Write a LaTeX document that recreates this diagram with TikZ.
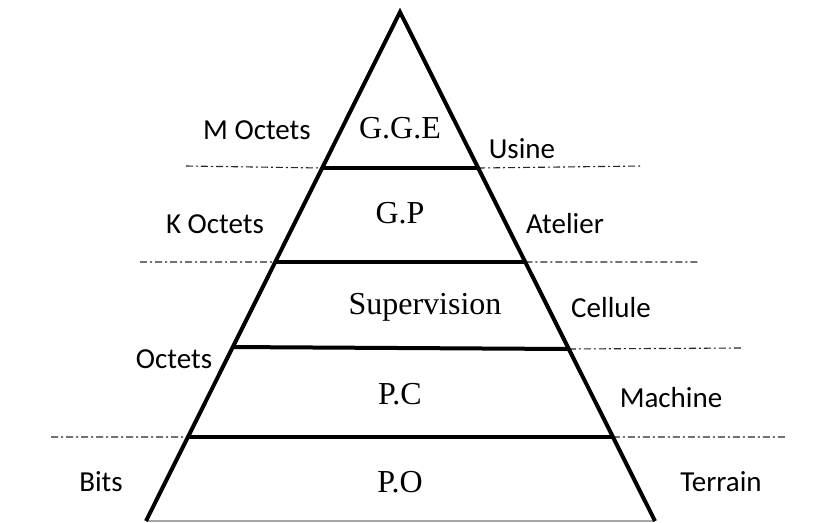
\documentclass[tikz,border=0pt]{standalone}
\usepackage{fontspec}
\setmainfont{Liberation Serif}
\newfontfamily\lblfont{Carlito}
\usetikzlibrary{calc}
\begin{document}
\begin{tikzpicture}[x=1pt,y=-1pt,
  edge/.style={line width=4pt,line cap=butt,line join=miter},
  level/.style={line width=4pt},
  guide/.style={line width=1.1pt,black!85,dash pattern=on 7pt off 3pt on 2pt off 3pt},
  inner/.style={font=\fontsize{32}{36}\selectfont,inner sep=0pt},
  side/.style={font=\lblfont\fontsize{29}{33}\selectfont,inner sep=0pt}]
\useasboundingbox (0,0) rectangle (819,522);
% triangle corners
\coordinate (A) at (400,12);
\coordinate (BL) at (146,521);
\coordinate (BR) at (655,521);
% level boundaries on both sides
\coordinate (L1) at ($(A)!0.3065!(BL)$); \coordinate (R1) at ($(A)!0.3065!(BR)$);
\coordinate (L2) at ($(A)!0.4912!(BL)$); \coordinate (R2) at ($(A)!0.4912!(BR)$);
\coordinate (L3) at ($(A)!0.6582!(BL)$); \coordinate (R3) at ($(A)!0.6621!(BR)$);
\coordinate (L4) at ($(A)!0.835!(BL)$);  \coordinate (R4) at ($(A)!0.835!(BR)$);
% guide line ends
\coordinate (g1l) at (186,166); \coordinate (g1r) at (643,166);
\coordinate (g2l) at (140,262); \coordinate (g2r) at (700,262);
\coordinate (g3r) at (741,348);
\coordinate (g4l) at (51,437);  \coordinate (g4r) at (786,437);
% dash-dot guides
\draw[guide] (g1l) -- (L1) (R1) -- (g1r);
\draw[guide] (g2l) -- (L2) (R2) -- (g2r);
\draw[guide] (R3) -- (g3r);
\draw[guide] (g4l) -- (L4) (R4) -- (g4r);
% base
\draw[line width=1.2pt,black!35] (BL) -- (BR);
% pyramid sides and levels
\draw[edge] (BL) -- (A) -- (BR);
\draw[level] (L1) -- (R1);
\draw[level] (L2) -- (R2);
\draw[level] (L3) -- (R3);
\draw[level] (L4) -- (R4);
% level names
\node[inner] (gge) at (400,128) {G.G.E};
\node[inner] (gp) at (400,213) {G.P};
\node[inner] (sup) at (425,307) {Supervision};
\node[inner] (pc) at (400,394) {P.C};
\node[inner] (po) at (400,482) {P.O};
% data sizes
\node[side] (mo) at (257,130) {M Octets};
\node[side] (ko) at (215,224) {K Octets};
\node[side] (oc) at (174,359) {Octets};
\node[side] (bi) at (101,482) {Bits};
% plant levels
\node[side] (us) at (522,149) {Usine};
\node[side] (at) at (565,224) {Atelier};
\node[side] (ce) at (611,308) {Cellule};
\node[side] (ma) at (671,398) {Machine};
\node[side] (te) at (721,482) {Terrain};
\end{tikzpicture}
\end{document}
